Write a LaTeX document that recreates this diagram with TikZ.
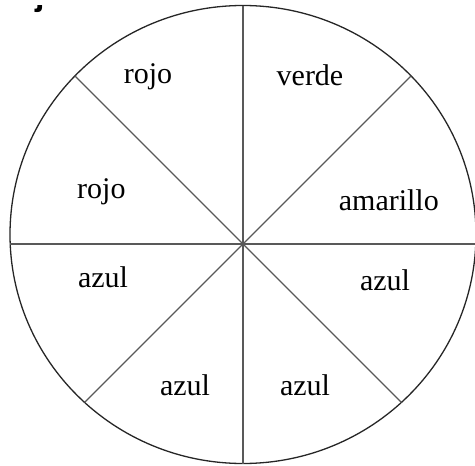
\documentclass[tikz,border=0pt]{standalone}
\usepackage{fontspec}
\setmainfont{Liberation Serif}
\newfontfamily\fragfont{Liberation Sans}
\begin{document}
\begin{tikzpicture}[x=1pt,y=-1pt,
  spoke/.style={draw=black!65,line width=1.2pt},
  rim/.style={draw=black!85,line width=1.3pt},
  lab/.style={font=\fontsize{30}{36}\selectfont,inner sep=0pt,anchor=base}]
\useasboundingbox (0,0) rectangle (475,466);
\coordinate (O) at (243,244);
\coordinate (C) at (243,234.5);
\coordinate (pN) at (243,5.5);
\coordinate (pS) at (243,463.5);
\coordinate (pW) at (10.2,244);
\coordinate (pE) at (475.8,244);
\coordinate (pNW) at (74.9,75.9);
\coordinate (pNE) at (411.1,75.9);
\coordinate (pSW) at (84.6,402.4);
\coordinate (pSE) at (401.4,402.4);
\draw[rim] (C) ellipse [x radius=233, y radius=229];
\foreach \p in {pN,pS,pW,pE,pNW,pNE,pSW,pSE}
  \draw[spoke] (O) -- (\p);
\node[lab] (l1) at (148,83) {rojo};
\node[lab] (l2) at (310,85) {verde};
\node[lab,anchor=base west] (l3) at (77,198) {rojo};
\node[lab,anchor=base east] (l4) at (439,210) {amarillo};
\node[lab] (l5) at (103,287) {azul};
\node[lab] (l6) at (385,290) {azul};
\node[lab] (l7) at (185,395) {azul};
\node[lab] (l8) at (305,395) {azul};
\begin{scope}
\clip (0,5) rectangle (120,30);
\node[font=\fragfont\bfseries\fontsize{34}{40}\selectfont,inner sep=0pt,anchor=base west] (frag) at (35,5) {j};
\end{scope}
\end{tikzpicture}
\end{document}
